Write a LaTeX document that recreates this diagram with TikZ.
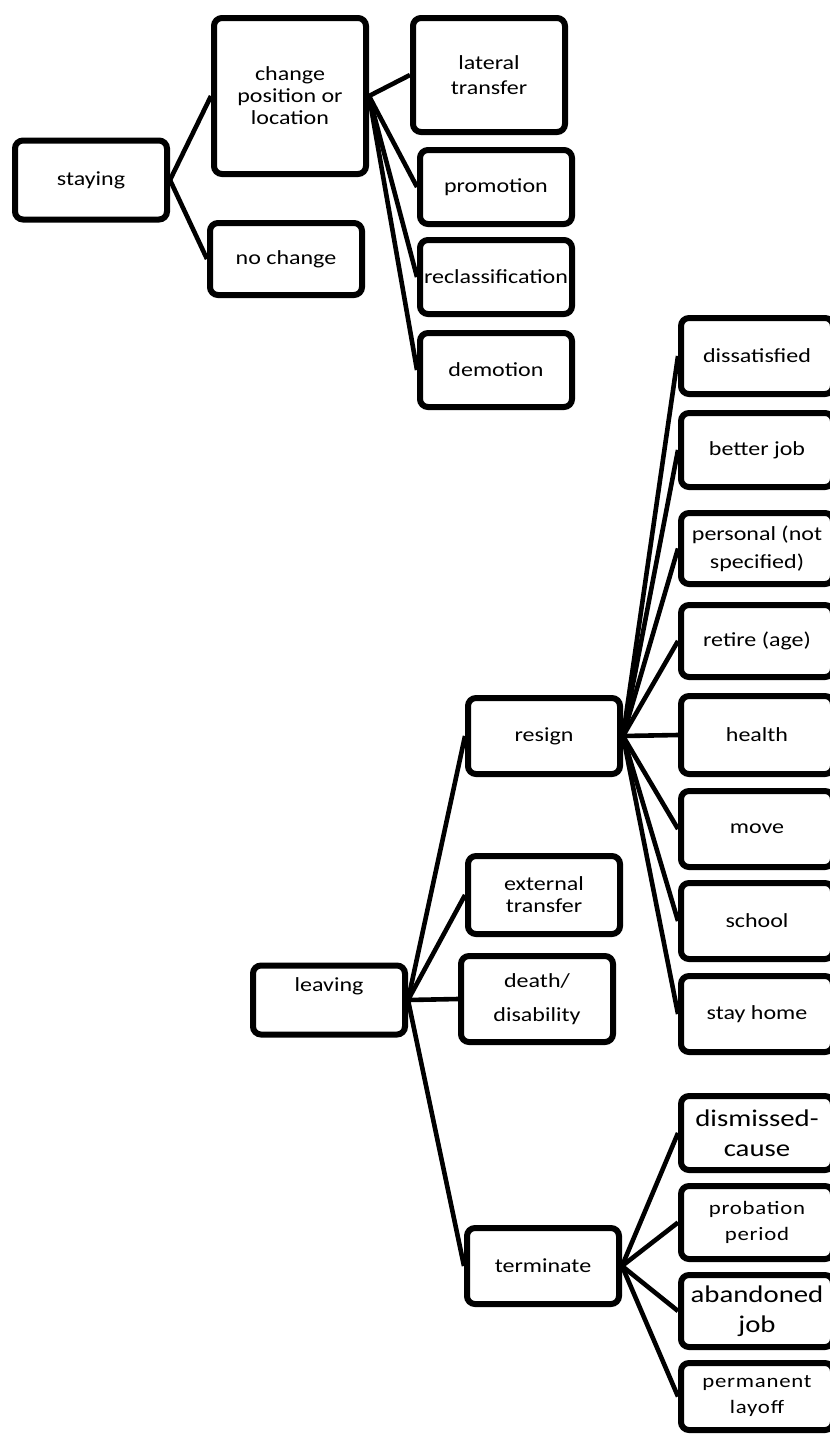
\documentclass[tikz,border=0pt]{standalone}
\usepackage{fontspec}
\setmainfont{Carlito}[FakeStretch=1.2]

\begin{document}
\begin{tikzpicture}[x=0.5pt, y=-0.5pt, every node/.style={draw, rounded corners=4pt, line width=3pt, fill=white, align=center, inner sep=1pt, minimum width=76pt, minimum height=38pt, font=\fontsize{10}{11}\selectfont}, link/.style={line width=2.3pt}, big/.style={font=\fontsize{12}{15}\selectfont}, spaced/.style={font=\fontsize{9.5}{13}\selectfont\addfontfeatures{LetterSpace=4}}]
                \clip (0,0) rectangle (830,1436);
                \node (staying) at (91,180) [minimum height=39.5pt] {staying};
                \node (change) at (290,96) [minimum height=78pt] {change\\position or\\location};
                \node (nochange) at (286,259) [minimum height=36pt] {no change};
                \node (lateral) at (489,75) [minimum height=57pt] {lateral\\[1.5pt]transfer};
                \node (promotion) at (496,187) [minimum height=37pt] {promotion};
                \node (reclass) at (496,277) [minimum height=37pt] {reclassification};
                \node (demotion) at (496,370) [minimum height=37pt] {demotion};
                \node (leaving) at (329,1000) [minimum height=34.5pt] {leaving\\[4pt]~};
                \node (resign) at (544,736) {resign};
                \node (external) at (544,895) [minimum height=39pt] {external\\transfer};
                \node (death) at (537,999) [minimum height=43pt] {death/\\[6pt]disability};
                \node (terminate) at (543,1266) {terminate};
                \node (dissatisfied) at (757,356) {dissatisfied};
                \node (betterjob) at (757,450) [minimum height=37pt] {better job};
                \node (personal) at (757,548.5) [minimum height=35.5pt] {personal (not\\[3pt]specified)};
                \node (retire) at (757,641) [minimum height=36pt] {retire (age)};
                \node (health) at (757,735) [minimum height=39pt] {health};
                \node (move) at (757,829) {move};
                \node (school) at (757,921) {school};
                \node (stayhome) at (757,1014) {stay home};
                \node (dismissed) at (757,1133) [big, minimum height=37pt] {dismissed-\\cause};
                \node (probation) at (757,1222.5) [spaced, minimum height=36.5pt] {probation\\period};
                \node (abandoned) at (757,1311) [big, minimum height=36pt] {abandoned\\job};
                \node (permanent) at (757,1396.5) [spaced, minimum height=33.5pt] {permanent\\layoff};
                \draw[link] (staying.east) -- (change.west);
                \draw[link] (staying.east) -- (nochange.west);
                \foreach \n in {lateral, promotion, reclass, demotion}
                    \draw[link] (change.east) -- (\n.west);
                \foreach \n in {resign, external, death, terminate}
                    \draw[link] (leaving.east) -- (\n.west);
                \foreach \n in {dissatisfied, betterjob, personal, retire, health, move, school, stayhome}
                    \draw[link] (resign.east) -- (\n.west);
                \foreach \n in {dismissed, probation, abandoned, permanent}
                    \draw[link] (terminate.east) -- (\n.west);
                \end{tikzpicture}
\end{document}
